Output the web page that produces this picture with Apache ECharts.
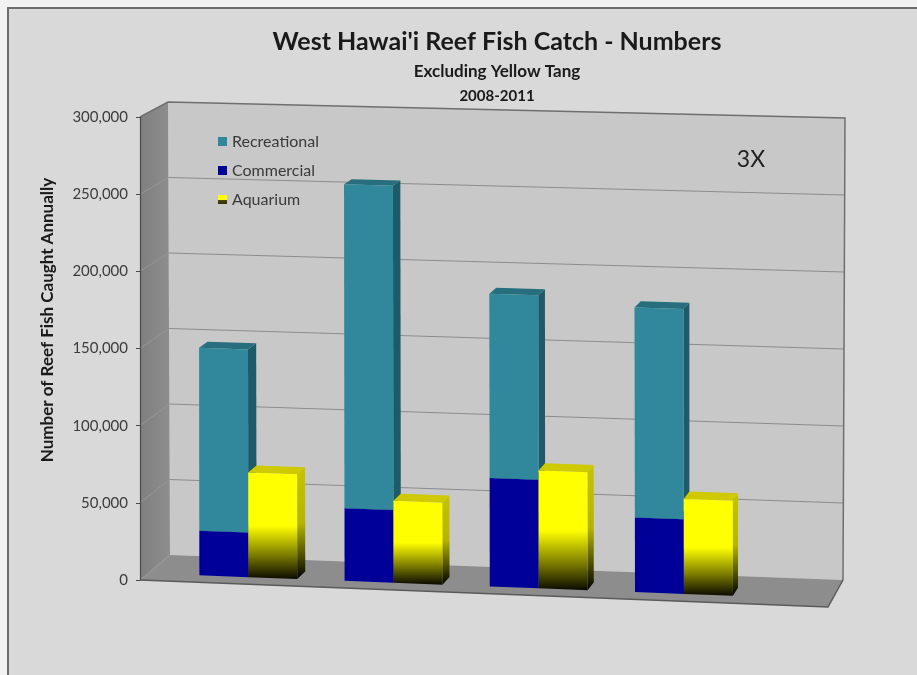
<!DOCTYPE html>
<html>
<head>
<meta charset="utf-8">
<title>West Hawai'i Reef Fish Catch - Numbers</title>
<script src="https://cdn.jsdelivr.net/npm/echarts@6/dist/echarts.min.js"></script>
<style>
  html, body { margin: 0; padding: 0; background: #f2f2f2; }
  #chart { width: 917px; height: 675px; }
</style>
</head>
<body>
<div id="chart"></div>
<script>
// ---- data -------------------------------------------------------------
const categories   = ['2008', '2009', '2010', '2011'];
const commercial   = [29000, 47000, 70000, 48000];
const recreational = [119000, 210000, 119000, 135000];
const aquarium     = [68000, 53000, 76000, 61000];
const yTicks       = [0, 50000, 100000, 150000, 200000, 250000, 300000];

// ---- layout / style constants ------------------------------------------
const FONT = 'Lato, "Open Sans", "Liberation Sans", sans-serif';
const X_MIN = -0.69, X_MAX = 4.02;        // category index axis extent
const BAR_W = 0.337;                      // bar width in category units
const DEPTH_FRONT = 0.27, DEPTH_BACK = 0.57;

// Maps a flat plot-area pixel (X, Y) and a depth w (0 = front, 1 = back)
// onto the slanted 3-D box drawn for the plot.
function projector(cs) {
  const L = cs.x, T = cs.y, R = cs.x + cs.width, B = cs.y + cs.height;
  const front = { lb: [L, B], rb: [R, B + 27], lt: [L, T], rt: [R - 2, T + 18] };
  const back  = { lb: [L + 30, B - 25], rb: [R + 15, B], lt: [L + 28, T - 15], rt: [R + 17, T + 1] };
  return function (X, Y, w) {
    const u = (X - L) / (R - L), v = (B - Y) / (B - T);
    const bil = (q, k) => (1 - u) * (1 - v) * q.lb[k] + u * (1 - v) * q.rb[k] +
                          (1 - u) * v * q.lt[k] + u * v * q.rt[k];
    const fx = bil(front, 0), fy = bil(front, 1);
    const bx = bil(back, 0),  by = bil(back, 1);
    return [fx + (bx - fx) * w, fy + (by - fy) * w];
  };
}

function poly(proj, pts, style) {
  return { type: 'polygon', silent: true,
           shape: { points: pts.map(p => proj(p[0], p[1], p[2])) }, style: style };
}
function seg(proj, a, b, style) {
  const p = proj(a[0], a[1], a[2]), q = proj(b[0], b[1], b[2]);
  return { type: 'line', silent: true,
           shape: { x1: p[0], y1: p[1], x2: q[0], y2: q[1] }, style: style };
}

// One 3-D column: right side, optional top, then front face.
function column(proj, X0, X1, Y0, Y1, faces, withTop) {
  const w0 = DEPTH_FRONT, w1 = DEPTH_BACK, out = [];
  out.push(poly(proj, [[X1, Y0, w0], [X1, Y0, w1], [X1, Y1, w1], [X1, Y1, w0]], { fill: faces.side }));
  if (withTop) {
    out.push(poly(proj, [[X0, Y1, w0], [X1, Y1, w0], [X1, Y1, w1], [X0, Y1, w1]], { fill: faces.top }));
  }
  out.push(poly(proj, [[X0, Y0, w0], [X1, Y0, w0], [X1, Y1, w0], [X0, Y1, w0]], { fill: faces.front }));
  return out;
}

function vGrad(stops) {
  return new echarts.graphic.LinearGradient(0, 0, 0, 1,
    stops.map(s => ({ offset: s[0], color: s[1] })));
}

const tealFaces   = { front: '#31879b', side: '#1e5a68', top: '#276f7f' };
const blueFaces   = { front: '#000099', side: '#00006a', top: '#00007a' };
const yellowFaces = {
  front: vGrad([[0, '#ffff00'], [0.5, '#ffff00'], [0.78, '#7a7a00'], [1, '#0a0a00']]),
  side:  vGrad([[0, '#c4c400'], [0.5, '#b5b500'], [0.8, '#4a4a00'], [1, '#000000']]),
  top:   '#cfc900'
};

// ---- walls, floor and gridlines ----------------------------------------
function renderFrame(params, api) {
  const cs = params.coordSys, proj = projector(cs);
  const L = cs.x, R = cs.x + cs.width, T = cs.y, B = cs.y + cs.height;
  const ch = [];
  ch.push(poly(proj, [[L, B, 1], [R, B, 1], [R, T, 1], [L, T, 1]], { fill: '#c8c8c8' }));
  ch.push(poly(proj, [[L, B, 0], [L, B, 1], [L, T, 1], [L, T, 0]], {
    fill: new echarts.graphic.LinearGradient(0, 0, 1, 0, [
      { offset: 0, color: '#7f7f7f' }, { offset: 1, color: '#8e8e8e' }])
  }));
  ch.push(poly(proj, [[L, B, 0], [R, B, 0], [R, B, 1], [L, B, 1]], { fill: '#8d8d8d' }));
  yTicks.slice(1, -1).forEach(t => {
    const Y = api.coord([X_MIN, t])[1];
    ch.push(seg(proj, [L, Y, 1], [R, Y, 1], { stroke: '#8c8c8c', lineWidth: 1.2 }));
    ch.push(seg(proj, [L, Y, 0], [L, Y, 1], { stroke: '#969696', lineWidth: 1 }));
  });
  ch.push({ type: 'polyline', silent: true,
    shape: { points: [proj(L, T, 0), proj(L, T, 1), proj(R, T, 1), proj(R, B, 1)] },
    style: { stroke: '#6f6f6f', lineWidth: 1.5, fill: null } });
  ch.push({ type: 'polyline', silent: true,
    shape: { points: [proj(L, B, 0), proj(R, B, 0), proj(R, B, 1)] },
    style: { stroke: '#5a5a5a', lineWidth: 1.5, fill: null } });
  return { type: 'group', children: ch };
}

function renderCommercial(params, api) {
  const proj = projector(params.coordSys);
  const i = api.value(0), c = api.value(1);
  const p0 = api.coord([i - BAR_W, 0]), p1 = api.coord([i, c]);
  return { type: 'group', children: column(proj, p0[0], p1[0], p0[1], p1[1], blueFaces, true) };
}

function renderRecreational(params, api) {
  const proj = projector(params.coordSys);
  const i = api.value(0), base = api.value(1), r = api.value(2);
  const p0 = api.coord([i - BAR_W, base]), p1 = api.coord([i, base + r]);
  return { type: 'group', children: column(proj, p0[0], p1[0], p0[1], p1[1], tealFaces, true) };
}

function renderAquarium(params, api) {
  const proj = projector(params.coordSys);
  const i = api.value(0), a = api.value(1);
  const p0 = api.coord([i, 0]), p1 = api.coord([i + BAR_W, a]);
  return { type: 'group', children: column(proj, p0[0], p1[0], p0[1], p1[1], yellowFaces, true) };
}

const chart = echarts.init(document.getElementById('chart'), null, { renderer: 'canvas' });

chart.setOption({
  animation: false,
  backgroundColor: '#f2f2f2',
  textStyle: { fontFamily: FONT },
  graphic: [
    { type: 'rect', z: -10, silent: true,
      shape: { x: 8, y: 8, width: 940, height: 700 },
      style: { fill: '#d9d9d9', stroke: '#6c6c6c', lineWidth: 2 } },
    { type: 'text', z: 10, silent: true, x: 497, y: 42,
      style: { text: "West Hawai'i Reef Fish Catch - Numbers", font: 'bold 25px ' + FONT,
               fill: '#1a1a1a', align: 'center', verticalAlign: 'middle' } },
    { type: 'text', z: 10, silent: true, x: 497, y: 72,
      style: { text: 'Excluding Yellow Tang', font: 'bold 17px ' + FONT,
               fill: '#1a1a1a', align: 'center', verticalAlign: 'middle' } },
    { type: 'text', z: 10, silent: true, x: 497, y: 96,
      style: { text: '2008-2011', font: 'bold 15px ' + FONT,
               fill: '#1a1a1a', align: 'center', verticalAlign: 'middle' } },
    { type: 'text', z: 10, silent: true, x: 48, y: 320, rotation: Math.PI / 2,
      style: { text: 'Number of Reef Fish Caught Annually', font: 'bold 17px ' + FONT,
               fill: '#1a1a1a', align: 'center', verticalAlign: 'middle' } },
    { type: 'text', z: 10, silent: true, x: 751, y: 160,
      style: { text: '3X', font: '23px ' + FONT,
               fill: '#222222', align: 'center', verticalAlign: 'middle' } }
  ],
  legend: {
    orient: 'vertical', left: 218, top: 132, padding: 0,
    itemWidth: 9, itemHeight: 9, itemGap: 10, icon: 'rect', selectedMode: false,
    data: ['Recreational', 'Commercial', 'Aquarium'],
    textStyle: { fontFamily: FONT, fontSize: 16, color: '#3a3a3a', lineHeight: 19 }
  },
  grid: { left: 140, top: 117, width: 688, height: 463 },
  xAxis: { type: 'value', min: X_MIN, max: X_MAX, show: false },
  yAxis: {
    type: 'value', z: 10,
    min: yTicks[0], max: yTicks[yTicks.length - 1], interval: yTicks[1] - yTicks[0],
    axisLine: { show: true, onZero: false, lineStyle: { color: '#4a4a4a', width: 1.2 } },
    axisTick: { show: true, length: 4, lineStyle: { color: '#4a4a4a' } },
    splitLine: { show: false },
    axisLabel: { margin: 12, fontFamily: FONT, fontSize: 15, color: '#3c3c3c',
                 formatter: v => v.toLocaleString('en-US') }
  },
  series: [
    { type: 'custom', name: 'frame', z: 1, silent: true, renderItem: renderFrame,
      data: [[0, 0]], legendHoverLink: false },
    { type: 'custom', name: 'Commercial', z: 2, silent: true, renderItem: renderCommercial,
      itemStyle: { color: '#000099' },
      data: categories.map((c, i) => [i, commercial[i]]) },
    { type: 'custom', name: 'Recreational', z: 3, silent: true, renderItem: renderRecreational,
      itemStyle: { color: '#31879b' },
      data: categories.map((c, i) => [i, commercial[i], recreational[i]]) },
    { type: 'custom', name: 'Aquarium', z: 4, silent: true, renderItem: renderAquarium,
      itemStyle: { color: vGrad([[0, '#ffff00'], [0.55, '#ffff00'], [0.6, '#4a4a00'], [1, '#303000']]) },
      data: categories.map((c, i) => [i, aquarium[i]]) }
  ]
});
</script>
</body>
</html>
